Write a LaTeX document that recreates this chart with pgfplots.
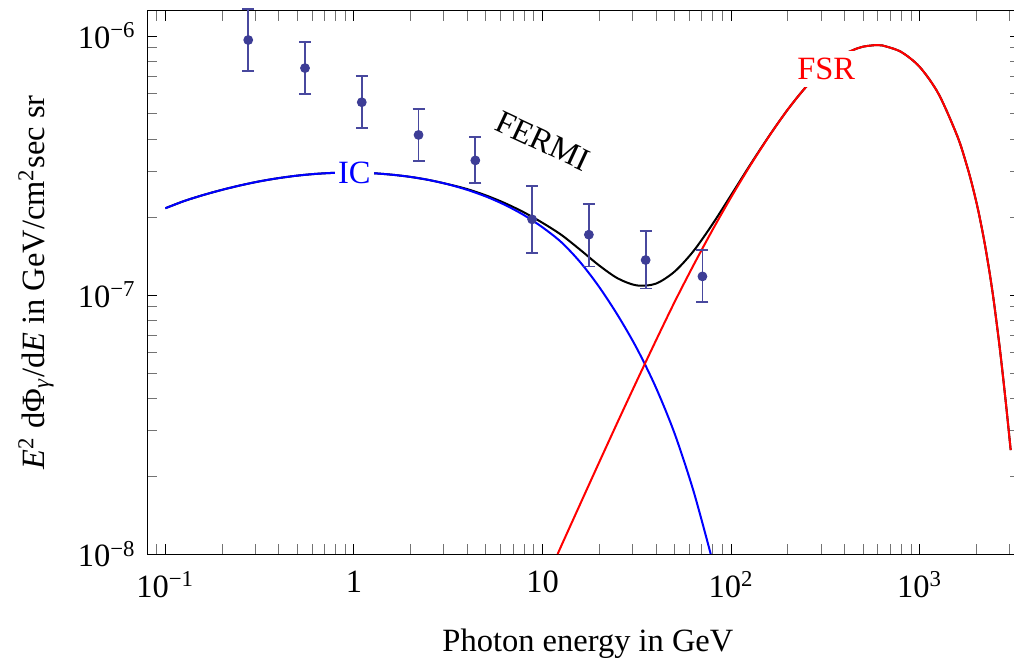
\documentclass[border=0pt]{standalone}
\usepackage{fontspec}
\setmainfont{Liberation Serif}
\usepackage{pgfplots}
\pgfplotsset{compat=1.18}
\definecolor{ptc}{RGB}{61,61,150}
\definecolor{errc}{RGB}{72,72,158}
\begin{document}
\fontsize{13}{15.6}\selectfont
\begin{tikzpicture}
\begin{loglogaxis}[
  name=ax,
  scale only axis, width=349.16pt, height=217.32pt,
  xmin=0.08, xmax=3400, ymin=1e-8, ymax=1.252e-6,
  clip=false,
  axis line style={line width=0.4pt},
  xtick={0.1,1,10,100,1000},
  xticklabels={10\textsuperscript{−1},1,10,10\textsuperscript{2},10\textsuperscript{3}},
  minor xtick={0.09,0.2,0.3,0.4,0.5,0.6,0.7,0.8,0.9,2,3,4,5,6,7,8,9,20,30,40,50,60,70,80,90,200,300,400,500,600,700,800,900,2000,3000},
  ytick={1e-8,1e-7,1e-6},
  yticklabels={10\textsuperscript{−8},10\textsuperscript{−7},10\textsuperscript{−6}},
  minor ytick={2e-8,3e-8,4e-8,5e-8,6e-8,7e-8,8e-8,9e-8,2e-7,3e-7,4e-7,5e-7,6e-7,7e-7,8e-7,9e-7},
  major tick length=4pt, minor tick length=4pt,
  major tick style={black, line width=0.4pt},
  minor tick style={black!55, line width=0.4pt},
  xticklabel style={yshift=-2.4pt},
  xlabel={Photon energy in GeV},
  xlabel style={at={(axis description cs:0.505,-0.1647)}, anchor=center},
  ylabel={\textit{E}\textsuperscript{2} dΦ\textsubscript{\textit{γ}}/d\textit{E} in GeV/cm\textsuperscript{2}sec sr},
  ylabel style={at={(axis description cs:-0.1273,0.5)}, anchor=center},
]
% total (FERMI)
\addplot[black, line width=0.8pt, smooth] coordinates {
(0.1,2.163e-7)(0.1259,2.307e-7)(0.1585,2.432e-7)(0.1995,2.547e-7)(0.2512,2.653e-7)
(0.3162,2.748e-7)(0.3981,2.827e-7)(0.5012,2.891e-7)(0.631,2.937e-7)(0.7943,2.964e-7)
(1,2.970e-7)(1.259,2.954e-7)(1.585,2.915e-7)(1.995,2.858e-7)(2.512,2.778e-7)
(3.162,2.677e-7)(3.981,2.565e-7)(5.012,2.4245e-7)(6.310,2.264e-7)(7.943,2.088e-7)
(10,1.8995e-7)(12.59,1.706e-7)(15.85,1.494e-7)(19.95,1.301e-7)(25.12,1.158e-7)
(31.62,1.089e-7)(39.81,1.106e-7)(50.12,1.232e-7)(63.10,1.478e-7)(79.43,1.873e-7)
(100,2.435e-7)(125.9,3.177e-7)(158.5,4.103e-7)(199.5,5.20e-7)(251.2,6.40e-7)
(316.2,7.55e-7)(398.1,8.49e-7)(446.7,8.85e-7)(501.2,9.10e-7)(588.8,9.23e-7)
(631,9.20e-7)(794.3,8.69e-7)(1000,7.59e-7)(1259,5.97e-7)(1585,4.09e-7)
(1778,3.155e-7)(1905,2.624e-7)(2042,2.118e-7)(2188,1.644e-7)(2317,1.289e-7)
(2455,9.75e-8)(2630,6.61e-8)(2754,4.94e-8)(2884,3.62e-8)(3034,2.52e-8)};
% IC
\addplot[blue, line width=0.8pt, smooth] coordinates {
(0.1,2.163e-7)(0.1259,2.307e-7)(0.1585,2.432e-7)(0.1995,2.547e-7)(0.2512,2.653e-7)
(0.3162,2.748e-7)(0.3981,2.827e-7)(0.5012,2.891e-7)(0.631,2.937e-7)(0.7943,2.964e-7)
(1,2.970e-7)(1.259,2.954e-7)(1.585,2.915e-7)(1.995,2.858e-7)(2.512,2.778e-7)
(3.162,2.675e-7)(3.981,2.548e-7)(5.012,2.400e-7)(6.310,2.229e-7)(7.943,2.037e-7)
(10,1.825e-7)(12.59,1.598e-7)(15.85,1.338e-7)(19.95,1.075e-7)(25.12,8.32e-8)
(31.62,6.22e-8)(39.81,4.41e-8)(50.12,2.92e-8)(63.10,1.753e-8)(77.9,1e-8)};
% FSR
\addplot[red, line width=0.8pt, smooth] coordinates {
(12.02,1e-8)(12.59,1.079e-8)(15.85,1.563e-8)(19.95,2.259e-8)(25.12,3.258e-8)
(31.62,4.667e-8)(39.81,6.65e-8)(50.12,9.40e-8)(63.10,1.303e-7)(79.43,1.778e-7)
(100,2.388e-7)(125.9,3.155e-7)(158.5,4.093e-7)(199.5,5.20e-7)(251.2,6.40e-7)
(316.2,7.55e-7)(398.1,8.49e-7)(446.7,8.85e-7)(501.2,9.10e-7)(588.8,9.23e-7)
(631,9.20e-7)(794.3,8.69e-7)(1000,7.59e-7)(1259,5.97e-7)(1585,4.09e-7)
(1778,3.155e-7)(1905,2.624e-7)(2042,2.118e-7)(2188,1.644e-7)(2317,1.289e-7)
(2455,9.75e-8)(2630,6.61e-8)(2754,4.94e-8)(2884,3.62e-8)(3034,2.52e-8)};
% data
\addplot[only marks, mark=*, mark size=1.75pt, color=ptc,
  error bars/.cd, y dir=both, y explicit,
  error bar style={color=errc, line width=0.7pt},
  error mark options={rotate=90, mark size=2.4pt, line width=0.7pt, color=errc}]
coordinates {
(0.275,9.65e-7) += (0,3.05e-7) -= (0,2.34e-7)
(0.55,7.52e-7) += (0,1.96e-7) -= (0,1.55e-7)
(1.1,5.55e-7) += (0,1.44e-7) -= (0,1.14e-7)
(2.2,4.15e-7) += (0,1.07e-7) -= (0,8.6e-8)
(4.4,3.31e-7) += (0,7.7e-8) -= (0,6.1e-8)
(8.8,1.96e-7) += (0,6.8e-8) -= (0,5.1e-8)
(17.6,1.71e-7) += (0,5.4e-8) -= (0,4.2e-8)
(35.2,1.365e-7) += (0,4.05e-8) -= (0,3.05e-8)
(70.4,1.18e-7) += (0,3.1e-8) -= (0,2.43e-8)
};
\node[fill=white, inner xsep=1.2pt, inner ysep=2.8pt, text=blue] at (axis cs:1.004,2.965e-7) {IC};
\node[fill=white, inner xsep=1.2pt, inner ysep=2.8pt, text=red] at (axis cs:319,7.44e-7) {FSR};
\node[rotate=-25, text=black] at (axis cs:10.05,3.93e-7) {FERMI};
\end{loglogaxis}
\pgfresetboundingbox
\path ([xshift=-58.84pt,yshift=-42pt]ax.south west) rectangle ([xshift=-2.4pt,yshift=4.28pt]ax.north east);
\end{tikzpicture}
\end{document}
